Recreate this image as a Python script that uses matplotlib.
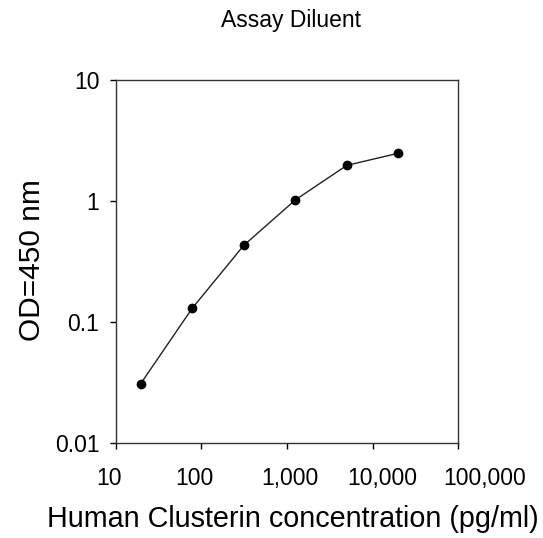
import matplotlib
matplotlib.use("Agg")
import matplotlib.pyplot as plt
from matplotlib.transforms import ScaledTranslation

plt.rcParams['font.family'] = ['Liberation Sans', 'DejaVu Sans']

# dane
conc = [19.5, 78, 312.5, 1250, 5000, 20000]
od = [0.031, 0.13, 0.43, 1.02, 1.97, 2.48]

x_ticks = [10, 100, 1000, 10000, 100000]
x_labels = ["10", "100", "1,000", "10,000", "100,000"]
y_ticks = [0.01, 0.1, 1, 10]
y_labels = ["0.01", "0.1", "1", "10"]

fig = plt.figure(figsize=(5.43, 5.38), dpi=100)
ax = fig.add_axes([0.2136, 0.1766, 0.6299, 0.6747])

ax.plot(conc, od, color="#222222", lw=1.0, marker="o", ms=6,
        mfc="black", mec="black")

ax.set_xscale("log")
ax.set_yscale("log")
ax.set_xlim(10, 100000)
ax.set_ylim(0.01, 10)
ax.set_xticks(x_ticks)
ax.set_xticklabels(x_labels)
ax.set_yticks(y_ticks)
ax.set_yticklabels(y_labels)
ax.minorticks_off()
ax.tick_params(direction="out", length=4, width=1, labelsize=16.5)
ax.tick_params(axis="x", pad=13.5)
ax.tick_params(axis="y", pad=8)
for s in ax.spines.values():
    s.set_linewidth(1.0)
    s.set_color("#333333")

# etykiety osi X w oryginale nie sa idealnie wysrodkowane
shifts = [-7, -7, 3, 10, 27]
for lab, dx in zip(ax.get_xticklabels(), shifts):
    lab.set_transform(lab.get_transform() + ScaledTranslation(dx / 100, 0, fig.dpi_scale_trans))

ax.set_xlabel("Human Clusterin concentration (pg/ml)", fontsize=20.7)
ax.xaxis.set_label_coords(0.516, -0.172)
ax.set_ylabel("OD=450 nm", fontsize=21.5)
ax.yaxis.set_label_coords(-0.205, 0.504)
fig.text(0.536, 0.961, "Assay Diluent", ha="center", va="center", fontsize=16.5)

fig.savefig("out.png", dpi=100)
plt.close()
